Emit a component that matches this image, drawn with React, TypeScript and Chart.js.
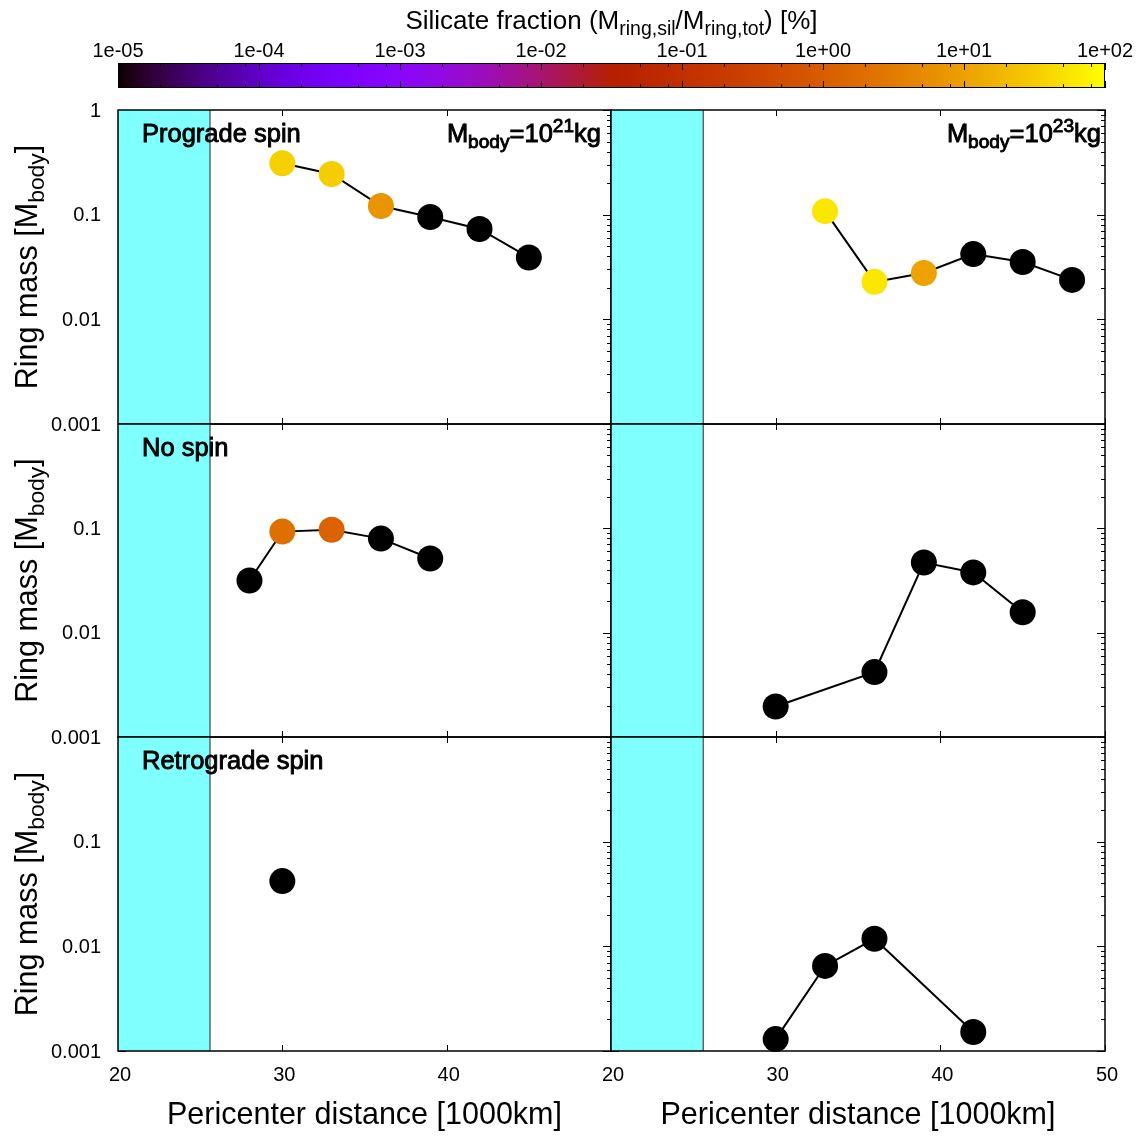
import React, { useEffect, useRef } from 'react';
import { Chart, registerables } from 'chart.js';

Chart.register(...registerables);

// ---------------- data ----------------
const pericenterTL = [30, 33, 36, 39, 42, 45];
const ringMassTL = [0.31, 0.245, 0.121, 0.095, 0.073, 0.039];
const silicateTL = [35, 33, 7, 0, 0, 0];

const pericenterTR = [33, 36, 39, 42, 45, 48];
const ringMassTR = [0.108, 0.0228, 0.0277, 0.042, 0.0353, 0.0238];
const silicateTR = [58, 58, 10.5, 0, 0, 0];

const pericenterML = [28, 30, 33, 36, 39];
const ringMassML = [0.0316, 0.093, 0.097, 0.0797, 0.0514];
const silicateML = [0, 2.1, 1.3, 0, 0];

const pericenterMR = [30, 36, 39, 42, 45];
const ringMassMR = [0.00196, 0.00419, 0.047, 0.0378, 0.0157];
const silicateMR = [0, 0, 0, 0, 0];

const pericenterBL = [30];
const ringMassBL = [0.042];
const silicateBL = [0];

const pericenterBR = [30, 33, 36, 42];
const ringMassBR = [0.0013, 0.0065, 0.0118, 0.00152];
const silicateBR = [0, 0, 0, 0];

const rocheBand = [20, 25.6];

const xTickValues = [20, 30, 40, 50];
const xTickLabels = ['20', '30', '40', '50'];
const yTickValues = [0.001, 0.01, 0.1, 1];
const yTickLabels = ['0.001', '0.01', '0.1', '1'];
const cbTickValues = [1e-5, 1e-4, 1e-3, 1e-2, 1e-1, 1e0, 1e1, 1e2];
const cbTickLabels = ['1e-05', '1e-04', '1e-03', '1e-02', '1e-01', '1e+00', '1e+01', '1e+02'];
const cbMinorFactors = [2, 5, 8];

const spinLabels = ['Prograde spin', 'No spin', 'Retrograde spin'];
const bodyExponents = ['21', '23'];

// ---------------- layout ----------------
const W = 1141;
const H = 1139;
const FONT = "'Liberation Sans', Arial, Helvetica, sans-serif";
const colX = [[118, 611], [611, 1105]];
const rowY = [[110, 424], [424, 737], [737, 1051]];
const cbBox = { left: 118, right: 1105, top: 63, bottom: 88 };
const bodyLabelRight = [601, 1101];

const TICK_FS = 20;
const AXIS_FS = 30.5;
const PANEL_FS = 25.5;
const CB_FS = 26;
const SUB = 0.75;

type Run = { t: string; s: number; dy?: number };

function palette(pct: number): string {
  if (!(pct > 0)) return 'rgb(0,0,0)';
  const lo = Math.log10(cbTickValues[0]);
  const hi = Math.log10(cbTickValues[cbTickValues.length - 1]);
  let t = (Math.log10(pct) - lo) / (hi - lo);
  t = Math.min(1, Math.max(0, t));
  const r = Math.sqrt(t);
  const g = t * t * t;
  const b = Math.max(0, Math.sin(2 * Math.PI * t));
  return `rgb(${Math.round(r * 255)},${Math.round(g * 255)},${Math.round(b * 255)})`;
}

function drawRuns(ctx: CanvasRenderingContext2D, runs: Run[], x: number, y: number, align: 'left' | 'center' | 'right', heavy = false) {
  ctx.save();
  ctx.textBaseline = 'alphabetic';
  ctx.textAlign = 'left';
  ctx.fillStyle = '#000';
  ctx.strokeStyle = '#000';
  ctx.lineWidth = 0.9;
  const widths = runs.map((r) => {
    ctx.font = `${r.s}px ${FONT}`;
    return ctx.measureText(r.t).width;
  });
  const total = widths.reduce((a, b) => a + b, 0);
  let cx = align === 'left' ? x : align === 'center' ? x - total / 2 : x - total;
  runs.forEach((r, i) => {
    ctx.font = `${r.s}px ${FONT}`;
    ctx.fillText(r.t, cx, y + (r.dy || 0));
    if (heavy) ctx.strokeText(r.t, cx, y + (r.dy || 0));
    cx += widths[i];
  });
  ctx.restore();
}

type PanelSpec = {
  col: number;
  row: number;
  distance: number[];
  mass: number[];
  silicate: number[];
};

const panels: PanelSpec[] = [
  { col: 0, row: 0, distance: pericenterTL, mass: ringMassTL, silicate: silicateTL },
  { col: 1, row: 0, distance: pericenterTR, mass: ringMassTR, silicate: silicateTR },
  { col: 0, row: 1, distance: pericenterML, mass: ringMassML, silicate: silicateML },
  { col: 1, row: 1, distance: pericenterMR, mass: ringMassMR, silicate: silicateMR },
  { col: 0, row: 2, distance: pericenterBL, mass: ringMassBL, silicate: silicateBL },
  { col: 1, row: 2, distance: pericenterBR, mass: ringMassBR, silicate: silicateBR },
];

function panelPlugin(spec: PanelSpec) {
  return {
    id: 'panelDecor',
    beforeDatasetsDraw(chart: any) {
      const { ctx, chartArea, scales } = chart;
      const { left, right, top, bottom } = chartArea;
      const x = scales.x;
      const y = scales.y;
      ctx.save();
      ctx.strokeStyle = '#000';
      ctx.lineWidth = 1;
      ctx.beginPath();
      for (const v of xTickValues) {
        const px = Math.round(x.getPixelForValue(v)) + 0.5;
        ctx.moveTo(px, top);
        ctx.lineTo(px, top + 6);
        ctx.moveTo(px, bottom);
        ctx.lineTo(px, bottom - 6);
      }
      for (let i = 0; i < yTickValues.length; i++) {
        const d = yTickValues[i];
        const py = Math.round(y.getPixelForValue(d)) + 0.5;
        ctx.moveTo(left, py);
        ctx.lineTo(left + 8, py);
        ctx.moveTo(right, py);
        ctx.lineTo(right - 8, py);
        if (i < yTickValues.length - 1) {
          for (let k = 2; k <= 9; k++) {
            const pm = Math.round(y.getPixelForValue(k * d)) + 0.5;
            ctx.moveTo(left, pm);
            ctx.lineTo(left + 4, pm);
            ctx.moveTo(right, pm);
            ctx.lineTo(right - 4, pm);
          }
        }
      }
      ctx.stroke();
      ctx.restore();
    },
    afterDatasetDraw(chart: any, args: any) {
      if (args.index !== 1) return;
      const { ctx, chartArea } = chart;
      const { left, right, top, bottom } = chartArea;
      ctx.save();
      ctx.strokeStyle = '#000';
      ctx.lineWidth = 1.5;
      ctx.strokeRect(left, top, right - left, bottom - top);
      ctx.restore();
    },
    afterDraw(chart: any) {
      const { ctx, chartArea, scales } = chart;
      const { left, right, top, bottom } = chartArea;
      const x = scales.x;
      const y = scales.y;
      ctx.save();
      ctx.fillStyle = '#000';
      ctx.font = `${TICK_FS}px ${FONT}`;
      if (spec.col === 0) {
        ctx.textAlign = 'right';
        ctx.textBaseline = 'middle';
        yTickValues.forEach((v, i) => {
          if (spec.row > 0 && i === yTickValues.length - 1) return;
          ctx.fillText(yTickLabels[i], left - 17, y.getPixelForValue(v) + 1);
        });
      }
      if (spec.row === rowY.length - 1) {
        ctx.textAlign = 'center';
        ctx.textBaseline = 'middle';
        xTickValues.forEach((v, i) => {
          if (spec.col === 0 && i === xTickValues.length - 1) return;
          ctx.fillText(xTickLabels[i], x.getPixelForValue(v) + 2, bottom + 24);
        });
        drawRuns(ctx, [{ t: 'Pericenter distance [1000km]', s: AXIS_FS }], (left + right) / 2, bottom + 73, 'center');
      }
      ctx.restore();
      if (spec.col === 0) {
        ctx.save();
        ctx.translate(37, (top + bottom) / 2);
        ctx.rotate(-Math.PI / 2);
        drawRuns(
          ctx,
          [
            { t: 'Ring mass [M', s: AXIS_FS },
            { t: 'body', s: AXIS_FS * SUB, dy: 7 },
            { t: ']', s: AXIS_FS },
          ],
          0,
          0,
          'center'
        );
        ctx.restore();
      }
      if (spec.col === 0) {
        drawRuns(ctx, [{ t: spinLabels[spec.row], s: PANEL_FS }], left + 24, top + 32, 'left', true);
      }
      if (spec.row === 0) {
        drawRuns(
          ctx,
          [
            { t: 'M', s: PANEL_FS },
            { t: 'body', s: PANEL_FS * SUB, dy: 6 },
            { t: '=10', s: PANEL_FS },
            { t: bodyExponents[spec.col], s: PANEL_FS * SUB, dy: -10 },
            { t: 'kg', s: PANEL_FS },
          ],
          bodyLabelRight[spec.col],
          top + 32,
          'right',
          true
        );
      }
    },
  };
}

function colorbarPlugin() {
  return {
    id: 'colorbarDecor',
    beforeDatasetsDraw(chart: any) {
      const { ctx, chartArea, scales } = chart;
      const { left, right, top, bottom } = chartArea;
      const x = scales.x;
      const lo = Math.log10(cbTickValues[0]);
      const hi = Math.log10(cbTickValues[cbTickValues.length - 1]);
      const grad = ctx.createLinearGradient(left, 0, right, 0);
      const steps = 140;
      for (let i = 0; i <= steps; i++) {
        const v = Math.pow(10, lo + ((hi - lo) * i) / steps);
        const pos = (x.getPixelForValue(v) - left) / (right - left);
        grad.addColorStop(Math.min(1, Math.max(0, pos)), palette(v));
      }
      ctx.save();
      ctx.fillStyle = grad;
      ctx.fillRect(left, top, right - left, bottom - top);
      ctx.strokeStyle = '#000';
      ctx.lineWidth = 1;
      ctx.beginPath();
      cbTickValues.forEach((d, i) => {
        const px = Math.round(x.getPixelForValue(d)) + 0.5;
        ctx.moveTo(px, top);
        ctx.lineTo(px, top + 7);
        ctx.moveTo(px, bottom);
        ctx.lineTo(px, bottom - 7);
        if (i < cbTickValues.length - 1) {
          for (const k of cbMinorFactors) {
            const pm = Math.round(x.getPixelForValue(k * d)) + 0.5;
            ctx.moveTo(pm, top);
            ctx.lineTo(pm, top + 4);
            ctx.moveTo(pm, bottom);
            ctx.lineTo(pm, bottom - 4);
          }
        }
      });
      ctx.stroke();
      ctx.strokeRect(left + 0.5, top + 0.5, right - left - 1, bottom - top - 1);
      ctx.fillStyle = '#000';
      ctx.font = `${TICK_FS}px ${FONT}`;
      ctx.textAlign = 'center';
      ctx.textBaseline = 'middle';
      cbTickValues.forEach((d, i) => {
        ctx.fillText(cbTickLabels[i], x.getPixelForValue(d), top - 12);
      });
      ctx.restore();
      drawRuns(
        ctx,
        [
          { t: 'Silicate fraction (M', s: CB_FS },
          { t: 'ring,sil', s: CB_FS * SUB, dy: 6 },
          { t: '/M', s: CB_FS },
          { t: 'ring,tot', s: CB_FS * SUB, dy: 6 },
          { t: ') [%]', s: CB_FS },
        ],
        (left + right) / 2,
        29,
        'center'
      );
    },
  };
}

export default function App() {
  const refs = useRef<(HTMLCanvasElement | null)[]>([]);

  useEffect(() => {
    const charts: Chart[] = [];
    panels.forEach((spec, idx) => {
      const canvas = refs.current[idx];
      if (!canvas) return;
      const [x0, x1] = colX[spec.col];
      const [y0, y1] = rowY[spec.row];
      const colors = spec.silicate.map(palette);
      const yMin = yTickValues[0];
      const yMax = yTickValues[yTickValues.length - 1];
      const chart = new Chart(canvas, {
        type: 'line',
        data: {
          datasets: [
            {
              label: 'ring mass',
              data: spec.distance.map((d, i) => ({ x: d, y: spec.mass[i] })),
              borderColor: '#000',
              borderWidth: 2,
              pointRadius: 13,
              pointHoverRadius: 13,
              pointBorderWidth: 0,
              pointBackgroundColor: colors,
              pointBorderColor: colors,
              fill: false,
              tension: 0,
              order: 0,
              clip: false,
            } as any,
            {
              label: 'band edge',
              data: [
                { x: rocheBand[1], y: yMin },
                { x: rocheBand[1], y: yMax },
              ],
              borderColor: '#222',
              borderWidth: 1,
              pointRadius: 0,
              fill: false,
              order: 1,
            } as any,
            {
              label: 'band',
              data: [
                { x: rocheBand[0], y: yMax },
                { x: rocheBand[1], y: yMax },
              ],
              borderColor: 'rgba(0,0,0,0)',
              borderWidth: 0,
              backgroundColor: '#80ffff',
              pointRadius: 0,
              fill: 'start',
              order: 2,
            } as any,
          ],
        },
        options: {
          responsive: false,
          animation: false,
          events: [],
          layout: { padding: { left: x0, top: y0, right: W - x1, bottom: H - y1 } },
          plugins: {
            legend: { display: false },
            tooltip: { enabled: false },
            title: { display: false },
          },
          scales: {
            x: { type: 'linear', min: xTickValues[0], max: xTickValues[xTickValues.length - 1], display: false },
            y: { type: 'logarithmic', min: yMin, max: yMax, display: false },
          },
        } as any,
        plugins: [panelPlugin(spec)],
      });
      charts.push(chart);
    });

    const cbCanvas = refs.current[panels.length];
    if (cbCanvas) {
      const cb = new Chart(cbCanvas, {
        type: 'line',
        data: { datasets: [] },
        options: {
          responsive: false,
          animation: false,
          events: [],
          layout: {
            padding: { left: cbBox.left, top: cbBox.top, right: W - cbBox.right, bottom: H - cbBox.bottom },
          },
          plugins: { legend: { display: false }, tooltip: { enabled: false } },
          scales: {
            x: { type: 'logarithmic', min: cbTickValues[0], max: cbTickValues[cbTickValues.length - 1], display: false },
            y: { type: 'linear', min: 0, max: 1, display: false },
          },
        } as any,
        plugins: [colorbarPlugin()],
      });
      charts.push(cb);
    }

    return () => {
      charts.forEach((c) => c.destroy());
    };
  }, []);

  const canvases = [];
  for (let i = 0; i <= panels.length; i++) {
    canvases.push(
      <canvas
        key={i}
        ref={(el) => {
          refs.current[i] = el;
        }}
        width={W}
        height={H}
        style={{ position: 'absolute', left: 0, top: 0, width: W, height: H }}
      />
    );
  }

  return (
    <div style={{ position: 'absolute', left: 0, top: 0, width: W, height: H, background: '#fff', overflow: 'hidden' }}>
      {canvases}
    </div>
  );
}
